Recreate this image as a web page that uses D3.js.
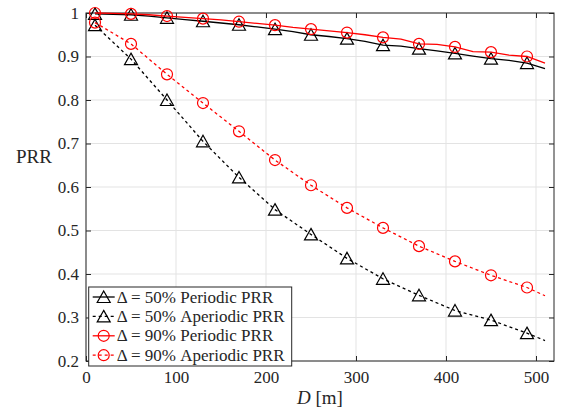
<!DOCTYPE html>
<html>
<head>
<meta charset="utf-8">
<script src="https://cdn.jsdelivr.net/npm/d3@7"></script>
<style>
  body { margin: 0; background: #fff; }
</style>
</head>
<body>
<svg id="chart" width="562" height="414" font-family="Liberation Serif">
  <text id="ylabel" x="34" y="162" text-anchor="middle" font-family="Liberation Serif" font-size="19" fill="#262626">PRR</text>
  <text id="xlabel" x="318" y="404" text-anchor="middle" font-family="Liberation Serif" font-size="19" fill="#262626"><tspan font-style="italic">D</tspan> [m]</text>
</svg>
<script>
// distances for the periodic curves and the aperiodic curves
const periodicD = [10, 30, 50, 70, 90, 110, 130, 150, 170, 190, 210, 230, 250, 270, 290, 310, 330, 350, 370, 390, 410, 430, 450, 470, 490, 510];
const aperiodicD = [10, 50, 90, 130, 170, 210, 250, 290, 330, 370, 410, 450, 490, 510];

const periodic50 = [0.998, 0.997, 0.996, 0.993, 0.989, 0.985, 0.981, 0.977, 0.973, 0.968, 0.963, 0.957, 0.950, 0.946, 0.941, 0.935, 0.926, 0.924, 0.918, 0.913, 0.907, 0.901, 0.895, 0.891, 0.885, 0.872];
const periodic90 = [1.000, 0.999, 0.998, 0.996, 0.993, 0.990, 0.987, 0.984, 0.980, 0.976, 0.972, 0.967, 0.963, 0.959, 0.955, 0.950, 0.944, 0.940, 0.929, 0.928, 0.922, 0.911, 0.910, 0.903, 0.900, 0.885];
const aperiodic50 = [0.972, 0.894, 0.800, 0.705, 0.622, 0.548, 0.491, 0.436, 0.389, 0.351, 0.316, 0.294, 0.264, 0.247];
const aperiodic90 = [0.978, 0.929, 0.859, 0.793, 0.728, 0.662, 0.604, 0.552, 0.506, 0.464, 0.429, 0.397, 0.369, 0.350];

const xTicks = [0, 100, 200, 300, 400, 500];
const yTicks = [0.2, 0.3, 0.4, 0.5, 0.6, 0.7, 0.8, 0.9, 1];

const series = [
    { label: "50% Periodic PRR", xs: periodicD, ys: periodic50, color: "#000", dash: null, marker: "tri" },
    { label: "50% Aperiodic PRR", xs: aperiodicD, ys: aperiodic50, color: "#000", dash: "3,3", marker: "tri" },
    { label: "90% Periodic PRR", xs: periodicD, ys: periodic90, color: "#ff0000", dash: null, marker: "circ" },
    { label: "90% Aperiodic PRR", xs: aperiodicD, ys: aperiodic90, color: "#ff0000", dash: "3,3", marker: "circ" }
];

const FONT = "Liberation Serif";
const W = 562, H = 414;
const margin = { left: 86, top: 13, right: 8, bottom: 53 };
const iw = W - margin.left - margin.right;
const ih = H - margin.top - margin.bottom;

const x = d3.scaleLinear().domain([0, 520]).range([0, iw]);
const y = d3.scaleLinear().domain([0.2, 1]).range([ih, 0]);

const svg = d3.select("#chart");
const g = svg.insert("g", "text").attr("transform", `translate(${margin.left},${margin.top})`);

// grid
g.append("g").selectAll("line").data(xTicks).join("line")
    .attr("x1", d => x(d)).attr("x2", d => x(d))
    .attr("y1", 0).attr("y2", ih)
    .attr("stroke", "#e3e3e3").attr("stroke-width", 1);
g.append("g").selectAll("line").data(yTicks).join("line")
    .attr("y1", d => y(d)).attr("y2", d => y(d))
    .attr("x1", 0).attr("x2", iw)
    .attr("stroke", "#e3e3e3").attr("stroke-width", 1);

// axes (ticks inside, box on all sides)
const axisColor = "#262626";
const tl = 5;
const xAxis = g.append("g").attr("transform", `translate(0,${ih})`)
    .call(d3.axisBottom(x).tickValues(xTicks).tickSizeInner(-tl).tickSizeOuter(0).tickPadding(10).tickFormat(d3.format("d")));
const yAxis = g.append("g")
    .call(d3.axisLeft(y).tickValues(yTicks).tickSizeInner(-tl).tickSizeOuter(0).tickPadding(7).tickFormat(d => d === 1 ? "1" : d3.format(".1f")(d)));
const xTop = g.append("g")
    .call(d3.axisTop(x).tickValues(xTicks).tickSizeInner(-tl).tickSizeOuter(0).tickFormat(""));
const yRight = g.append("g").attr("transform", `translate(${iw},0)`)
    .call(d3.axisRight(y).tickValues(yTicks).tickSizeInner(-tl).tickSizeOuter(0).tickFormat(""));

[xAxis, yAxis, xTop, yRight].forEach(a => {
    a.attr("font-family", FONT).attr("font-size", 17);
    a.select(".domain").remove();
    a.selectAll("line").attr("stroke", axisColor);
    a.selectAll("text").attr("fill", axisColor);
});
g.append("rect").attr("width", iw).attr("height", ih)
    .attr("fill", "none").attr("stroke", axisColor).attr("stroke-width", 1);

// markers
function drawMarker(sel, type, color) {
    if (type === "tri") {
        sel.append("path").attr("d", "M0,-6L6.5,5.5L-6.5,5.5Z")
            .attr("fill", "none").attr("stroke", color).attr("stroke-width", 1.2);
    } else {
        sel.append("circle").attr("r", 5.5)
            .attr("fill", "none").attr("stroke", color).attr("stroke-width", 1.2);
    }
}

const line = d3.line().x(d => x(d[0])).y(d => y(d[1]));
const plot = g.append("g");
series.forEach(s => {
    const pts = s.xs.map((d, i) => [d, s.ys[i]]);
    plot.append("path").datum(pts)
        .attr("d", line)
        .attr("fill", "none")
        .attr("stroke", s.color)
        .attr("stroke-width", 1.3)
        .attr("stroke-dasharray", s.dash);
    pts.filter(p => (p[0] - 10) % 40 === 0).forEach(p => {
        const m = plot.append("g").attr("transform", `translate(${x(p[0])},${y(p[1])})`);
        drawMarker(m, s.marker, s.color);
    });
});

// axis labels placed from the scales
svg.select("#ylabel").attr("y", margin.top + y(0.67) + 6);
svg.select("#xlabel").attr("x", margin.left + x(260));

// legend
const lg = g.append("g").attr("transform", `translate(${x(3)},${y(0.4) + 13})`);
const rowH = 19.4;
lg.append("rect").attr("width", 203).attr("height", 79)
    .attr("fill", "#fff").attr("stroke", axisColor).attr("stroke-width", 1);
series.forEach((s, i) => {
    const row = lg.append("g").attr("transform", `translate(0,${10 + i * rowH})`);
    row.append("line").attr("x1", 4).attr("x2", 26)
        .attr("stroke", s.color).attr("stroke-width", 1.3)
        .attr("stroke-dasharray", s.dash);
    drawMarker(row.append("g").attr("transform", "translate(15,0)"), s.marker, s.color);
    row.append("text").attr("x", 28).attr("y", 5.5)
        .attr("font-family", FONT).attr("font-size", 17).attr("fill", axisColor)
        .text("Δ = " + s.label);
});
</script>
</body>
</html>
